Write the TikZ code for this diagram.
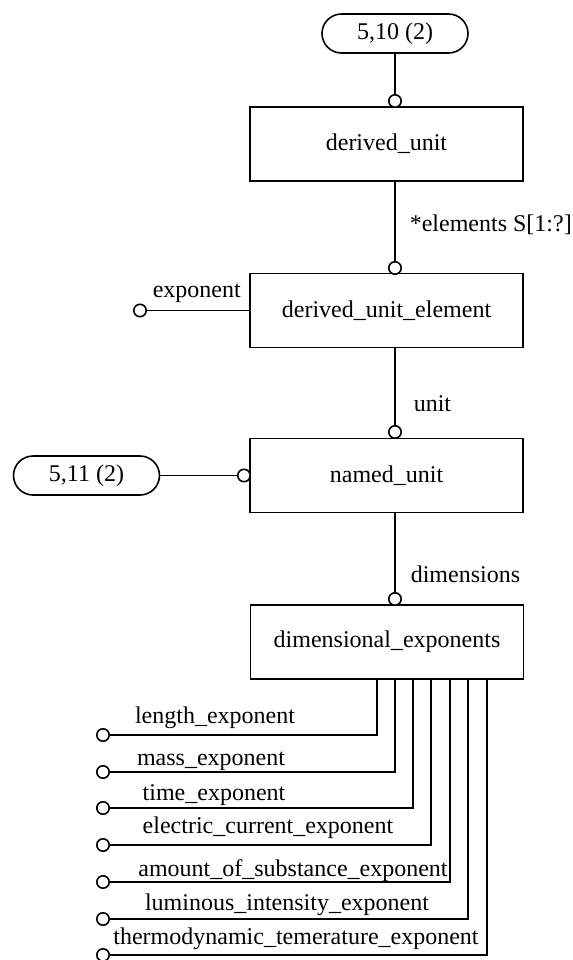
\documentclass[tikz,border=0pt]{standalone}
\usepackage{fontspec}
\setmainfont{Liberation Serif}
\usetikzlibrary{shapes.misc}
\begin{document}
\begin{tikzpicture}[x=0.5pt,y=-0.5pt, line width=0.8pt,
  font=\fontsize{12}{14}\selectfont,
  ent/.style={draw, minimum width=136.5pt, minimum height=37pt, inner sep=0pt},
  pg/.style={draw, rounded rectangle, minimum width=73pt, minimum height=19.5pt, inner sep=0pt},
  ring/.style={draw, circle, fill=white, minimum size=6.2pt, inner sep=0pt},
  lbl/.style={inner sep=0pt, anchor=base}]
\useasboundingbox (0,0) rectangle (573,960);

% entities and page references
\node[pg] (p510) at (395,33.5) {5,10 (2)};
\node[ent] (du) at (386.5,144) {derived\_unit};
\node[ring] (c1) at (395,101) {};
\node[ent] (due) at (386.5,310.5) {derived\_unit\_element};
\node[ring] (c2) at (395,268) {};
\node[ring] (c3) at (140,310.5) {};
\node[ent] (nu) at (386.5,475.5) {named\_unit};
\node[ring] (c4) at (395,432) {};
\node[pg] (p511) at (86.5,475.5) {5,11 (2)};
\node[ring] (c5) at (244,475.5) {};
\node[ent] (de) at (387,642) {dimensional\_exponents};
\node[ring] (c6) at (395,599) {};

% connectors
\draw (p510.south) -- (c1.north);
\draw (c2.north) -- (c2.north |- du.south);
\draw (c4.north) -- (c4.north |- due.south);
\draw (c6.north) -- (c6.north |- nu.south);
\draw (c3.east) -- (c3.east -| due.west);
\draw (p511.east) -- (c5.west);

% labels
\node[lbl, anchor=base west] (lelem) at (409,231) {*elements S[1:?]};
\node[lbl, anchor=base west] (lexp) at (152,297) {exponent};
\node[lbl, anchor=base west] (lunit) at (413,411) {unit};
\node[lbl, anchor=base west] (ldim) at (410,582) {dimensions};

% exponent attributes
\foreach \i/\vx/\hy/\lx/\ly/\t in {
  1/377/735/215/723/length\_exponent,
  2/395/772/211/765/mass\_exponent,
  3/413/808/214/800/time\_exponent,
  4/431/845/268/833/electric\_current\_exponent,
  5/450/882/293/876/amount\_of\_substance\_exponent,
  6/468/919/287/910/luminous\_intensity\_exponent,
  7/487/955/296/944/thermodynamic\_temerature\_exponent} {
  \node[ring] (e\i) at (103,\hy) {};
  \coordinate (k\i) at (\vx,679);
  \draw (e\i.east) -- (e\i.east -| k\i) -- (k\i);
  \node[lbl] (l\i) at (\lx,\ly) {\t};
}
\end{tikzpicture}
\end{document}
